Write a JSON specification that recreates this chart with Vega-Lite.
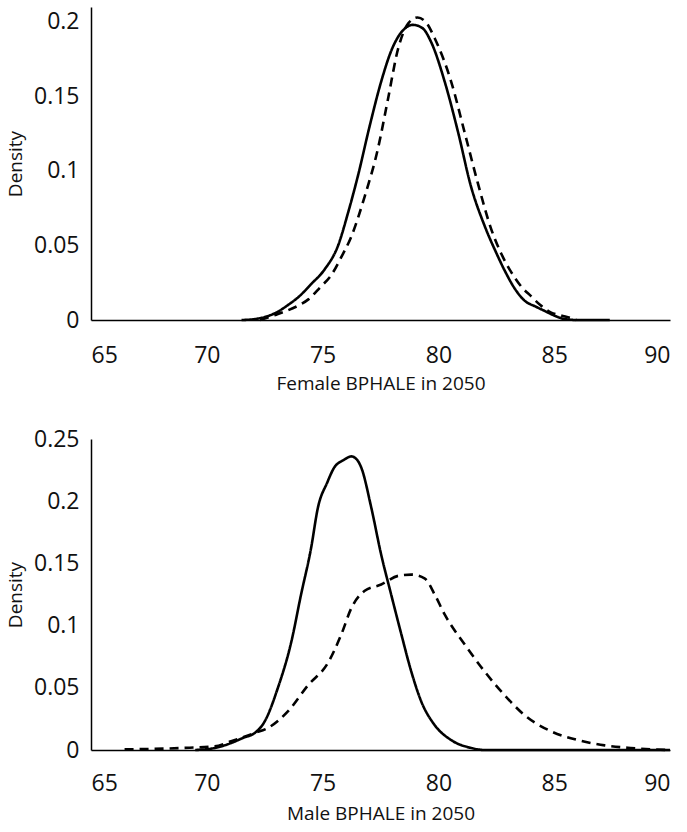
{
  "$schema": "https://vega.github.io/schema/vega-lite/v6.json",
  "padding": {"left": 6, "top": 7, "right": 10, "bottom": 6},
  "spacing": 35,
  "config": {
    "view": {"stroke": null},
    "font": "Open Sans",
    "axis": {
      "grid": false, "ticks": false, "tickSize": 0,
      "domainColor": "#000", "domainWidth": 1.5,
      "labelColor": "#111", "labelFont": "Open Sans", "labelFontSize": 23,
      "titleColor": "#111", "titleFont": "Open Sans", "titleFontSize": 19, "titleFontWeight": "normal",
      "labelPadding": 10
    },
    "line": {"color": "#000", "strokeWidth": 2.6, "interpolate": "monotone"}
  },
  "datasets": {
    "female": [
      {"x": 71.5, "density": 0, "model": "Model 1"},
      {"x": 72.0, "density": 0.0005, "model": "Model 1"},
      {"x": 72.5, "density": 0.002, "model": "Model 1"},
      {"x": 73.0, "density": 0.005, "model": "Model 1"},
      {"x": 73.5, "density": 0.010, "model": "Model 1"},
      {"x": 74.0, "density": 0.016, "model": "Model 1"},
      {"x": 74.5, "density": 0.024, "model": "Model 1"},
      {"x": 75.09, "density": 0.034, "model": "Model 1"},
      {"x": 75.67, "density": 0.050, "model": "Model 1"},
      {"x": 76.1, "density": 0.072, "model": "Model 1"},
      {"x": 76.53, "density": 0.097, "model": "Model 1"},
      {"x": 77.03, "density": 0.130, "model": "Model 1"},
      {"x": 77.53, "density": 0.160, "model": "Model 1"},
      {"x": 78.0, "density": 0.182, "model": "Model 1"},
      {"x": 78.45, "density": 0.194, "model": "Model 1"},
      {"x": 78.9, "density": 0.198, "model": "Model 1"},
      {"x": 79.3, "density": 0.196, "model": "Model 1"},
      {"x": 79.7, "density": 0.186, "model": "Model 1"},
      {"x": 80.27, "density": 0.160, "model": "Model 1"},
      {"x": 80.85, "density": 0.126, "model": "Model 1"},
      {"x": 81.4, "density": 0.090, "model": "Model 1"},
      {"x": 82.0, "density": 0.063, "model": "Model 1"},
      {"x": 82.5, "density": 0.045, "model": "Model 1"},
      {"x": 82.9, "density": 0.032, "model": "Model 1"},
      {"x": 83.3, "density": 0.021, "model": "Model 1"},
      {"x": 83.72, "density": 0.013, "model": "Model 1"},
      {"x": 84.2, "density": 0.009, "model": "Model 1"},
      {"x": 84.6, "density": 0.006, "model": "Model 1"},
      {"x": 85.0, "density": 0.003, "model": "Model 1"},
      {"x": 85.45, "density": 0.0007, "model": "Model 1"},
      {"x": 86.0, "density": 0, "model": "Model 1"},
      {"x": 87.4, "density": 0, "model": "Model 1"},
      {"x": 72.3, "density": 0, "model": "Model 2"},
      {"x": 73.07, "density": 0.004, "model": "Model 2"},
      {"x": 73.94, "density": 0.0096, "model": "Model 2"},
      {"x": 74.4, "density": 0.014, "model": "Model 2"},
      {"x": 74.9, "density": 0.022, "model": "Model 2"},
      {"x": 75.37, "density": 0.030, "model": "Model 2"},
      {"x": 75.8, "density": 0.042, "model": "Model 2"},
      {"x": 76.24, "density": 0.056, "model": "Model 2"},
      {"x": 76.82, "density": 0.083, "model": "Model 2"},
      {"x": 77.39, "density": 0.115, "model": "Model 2"},
      {"x": 77.82, "density": 0.148, "model": "Model 2"},
      {"x": 78.26, "density": 0.182, "model": "Model 2"},
      {"x": 78.7, "density": 0.199, "model": "Model 2"},
      {"x": 79.1, "density": 0.203, "model": "Model 2"},
      {"x": 79.5, "density": 0.199, "model": "Model 2"},
      {"x": 79.84, "density": 0.189, "model": "Model 2"},
      {"x": 80.55, "density": 0.160, "model": "Model 2"},
      {"x": 81.13, "density": 0.126, "model": "Model 2"},
      {"x": 81.7, "density": 0.092, "model": "Model 2"},
      {"x": 82.28, "density": 0.061, "model": "Model 2"},
      {"x": 82.7, "density": 0.045, "model": "Model 2"},
      {"x": 83.15, "density": 0.032, "model": "Model 2"},
      {"x": 83.6, "density": 0.022, "model": "Model 2"},
      {"x": 84.0, "density": 0.016, "model": "Model 2"},
      {"x": 84.4, "density": 0.010, "model": "Model 2"},
      {"x": 84.87, "density": 0.005, "model": "Model 2"},
      {"x": 85.3, "density": 0.003, "model": "Model 2"},
      {"x": 85.73, "density": 0.0012, "model": "Model 2"},
      {"x": 85.95, "density": 0, "model": "Model 2"}
    ],
    "male": [
      {"x": 69.5, "density": 0, "model": "Model 1"},
      {"x": 70.34, "density": 0.0016, "model": "Model 1"},
      {"x": 71.05, "density": 0.0056, "model": "Model 1"},
      {"x": 71.6, "density": 0.010, "model": "Model 1"},
      {"x": 72.07, "density": 0.0137, "model": "Model 1"},
      {"x": 72.5, "density": 0.023, "model": "Model 1"},
      {"x": 73.07, "density": 0.050, "model": "Model 1"},
      {"x": 73.65, "density": 0.087, "model": "Model 1"},
      {"x": 74.07, "density": 0.125, "model": "Model 1"},
      {"x": 74.5, "density": 0.162, "model": "Model 1"},
      {"x": 74.8, "density": 0.195, "model": "Model 1"},
      {"x": 75.2, "density": 0.215, "model": "Model 1"},
      {"x": 75.5, "density": 0.227, "model": "Model 1"},
      {"x": 75.9, "density": 0.233, "model": "Model 1"},
      {"x": 76.24, "density": 0.236, "model": "Model 1"},
      {"x": 76.5, "density": 0.233, "model": "Model 1"},
      {"x": 76.67, "density": 0.227, "model": "Model 1"},
      {"x": 77.1, "density": 0.195, "model": "Model 1"},
      {"x": 77.53, "density": 0.157, "model": "Model 1"},
      {"x": 77.96, "density": 0.125, "model": "Model 1"},
      {"x": 78.4, "density": 0.093, "model": "Model 1"},
      {"x": 78.83, "density": 0.063, "model": "Model 1"},
      {"x": 79.26, "density": 0.039, "model": "Model 1"},
      {"x": 79.84, "density": 0.020, "model": "Model 1"},
      {"x": 80.55, "density": 0.008, "model": "Model 1"},
      {"x": 81.42, "density": 0.0016, "model": "Model 1"},
      {"x": 82.0, "density": 0, "model": "Model 1"},
      {"x": 90.0, "density": 0, "model": "Model 1"},
      {"x": 66.45, "density": 0.0005, "model": "Model 2"},
      {"x": 68.9, "density": 0.0016, "model": "Model 2"},
      {"x": 70.34, "density": 0.003, "model": "Model 2"},
      {"x": 71.05, "density": 0.007, "model": "Model 2"},
      {"x": 72.07, "density": 0.0137, "model": "Model 2"},
      {"x": 72.64, "density": 0.0177, "model": "Model 2"},
      {"x": 73.5, "density": 0.031, "model": "Model 2"},
      {"x": 74.37, "density": 0.052, "model": "Model 2"},
      {"x": 75.23, "density": 0.070, "model": "Model 2"},
      {"x": 75.81, "density": 0.093, "model": "Model 2"},
      {"x": 76.24, "density": 0.114, "model": "Model 2"},
      {"x": 76.82, "density": 0.128, "model": "Model 2"},
      {"x": 77.53, "density": 0.133, "model": "Model 2"},
      {"x": 78.26, "density": 0.140, "model": "Model 2"},
      {"x": 78.83, "density": 0.141, "model": "Model 2"},
      {"x": 79.4, "density": 0.138, "model": "Model 2"},
      {"x": 79.84, "density": 0.125, "model": "Model 2"},
      {"x": 80.27, "density": 0.109, "model": "Model 2"},
      {"x": 81.13, "density": 0.085, "model": "Model 2"},
      {"x": 82.0, "density": 0.063, "model": "Model 2"},
      {"x": 82.86, "density": 0.044, "model": "Model 2"},
      {"x": 83.72, "density": 0.028, "model": "Model 2"},
      {"x": 84.87, "density": 0.015, "model": "Model 2"},
      {"x": 86.03, "density": 0.008, "model": "Model 2"},
      {"x": 87.18, "density": 0.0037, "model": "Model 2"},
      {"x": 88.3, "density": 0.0016, "model": "Model 2"},
      {"x": 90.0, "density": 0, "model": "Model 2"}
    ]
  },
  "vconcat": [
    {
      "width": 579, "height": 313,
      "data": {"name": "female"},
      "mark": {"type": "line"},
      "encoding": {
        "x": {"field": "x", "type": "quantitative", "title": "Female BPHALE in 2050",
              "scale": {"domain": [65, 90], "nice": false, "zero": false},
              "axis": {"values": [65, 70, 75, 80, 85, 90], "labelPadding": 24, "titlePadding": 7}},
        "y": {"field": "density", "type": "quantitative", "title": "Density",
              "scale": {"domain": [0, 0.21], "nice": false},
              "axis": {"values": [0, 0.05, 0.1, 0.15, 0.2], "format": "~g", "labelPadding": 12, "titlePadding": 8}},
        "strokeDash": {"field": "model", "type": "nominal", "legend": null,
                       "scale": {"domain": ["Model 1", "Model 2"], "range": [[1, 0], [9, 6]]}}
      }
    },
    {
      "width": 579, "height": 311,
      "data": {"name": "male"},
      "mark": {"type": "line"},
      "encoding": {
        "x": {"field": "x", "type": "quantitative", "title": "Male BPHALE in 2050",
              "scale": {"domain": [65, 90], "nice": false, "zero": false},
              "axis": {"values": [65, 70, 75, 80, 85, 90], "labelPadding": 22, "titlePadding": 9}},
        "y": {"field": "density", "type": "quantitative", "title": "Density",
              "scale": {"domain": [0, 0.25], "nice": false},
              "axis": {"values": [0, 0.05, 0.1, 0.15, 0.2, 0.25], "format": "~g", "labelPadding": 12, "titlePadding": 8}},
        "strokeDash": {"field": "model", "type": "nominal", "legend": null,
                       "scale": {"domain": ["Model 1", "Model 2"], "range": [[1, 0], [9, 6]]}}
      }
    }
  ]
}
